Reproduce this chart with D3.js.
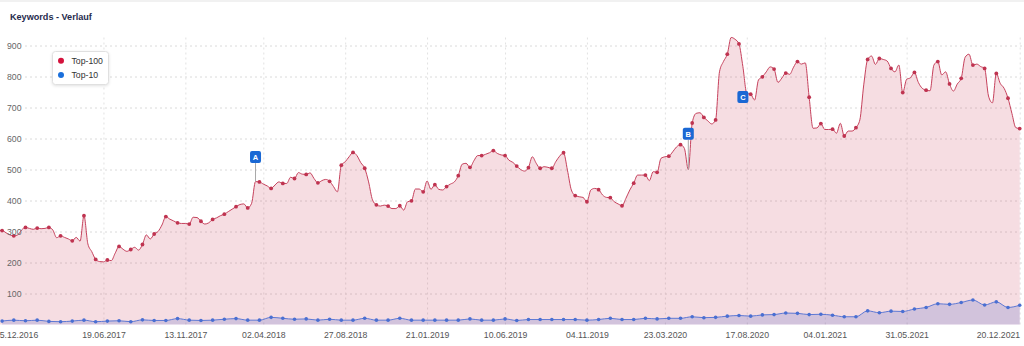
<!DOCTYPE html>
<html><head><meta charset="utf-8">
<script src="https://cdn.jsdelivr.net/npm/d3@7"></script>
<style>
html,body{margin:0;padding:0;background:#fff;}
svg{display:block;font-family:"Liberation Sans",Arial,sans-serif;}
</style>
</head><body>
<svg id="c" width="1024" height="346"></svg>
<script>
// ---------- data ----------
const title = "Keywords - Verlauf";
const seriesNames = ["Top-100", "Top-10"];
const startDate = "2016-12-05";   // first weekly value
const endDate = "2021-12-20";     // last weekly value
// Top-100, one value per week
const top100 = [300,303,303,296,289,286,289,305,313,310,307,311,309,310,313,305,280,286,281,276,
270,281,269,351,260,235,210,203,202,208,206,230,252,243,236,242,249,240,258,289,
276,292,300,321,348,340,334,328,326,326,324,346,345,333,324,328,339,344,351,356,
364,372,380,387,389,376,391,461,460,453,447,439,450,460,455,455,475,471,490,485,
484,489,471,457,464,468,462,445,428,514,525,541,555,545,522,504,460,402,386,382,
385,382,374,374,383,369,396,399,437,437,428,463,436,451,436,434,445,453,460,480,
517,520,507,528,545,545,549,554,561,552,547,545,530,523,511,500,495,506,541,520,
504,509,507,504,525,543,554,498,434,416,412,410,396,434,439,435,418,410,409,396,
389,383,407,434,456,482,482,482,464,493,491,536,541,543,557,573,580,568,500,650,
681,683,668,657,647,660,815,848,872,926,920,905,832,746,743,724,789,799,815,831,
824,781,795,811,807,830,848,840,844,733,633,634,648,629,629,630,617,649,608,624,
624,635,660,773,855,866,839,858,855,850,826,815,837,748,791,796,813,781,762,756,
754,837,848,805,815,776,753,776,794,862,872,837,840,832,826,737,715,810,778,762,
730,681,635,632];
// Top-10, one value every third week starting 19.12.2016
const top10Start = "2016-12-19";
const top10 = [11,14,12,14,10,9,11,14,9,11,12,9,15,13,13,19,14,13,14,17,19,14,
14,23,20,17,18,14,17,14,14,20,14,14,20,14,14,14,14,14,18,14,14,18,
13,16,16,16,16,16,14,16,20,16,16,20,18,20,20,25,22,23,27,29,27,31,
32,37,36,32,33,30,25,25,44,38,43,42,50,55,67,65,71,79,63,73,55,62];
const xTickLabels = ["05.12.2016","19.06.2017","13.11.2017","02.04.2018","27.08.2018","21.01.2019",
"10.06.2019","04.11.2019","23.03.2020","17.08.2020","04.01.2021","31.05.2021","20.12.2021"];
const yTickValues = [100,200,300,400,500,600,700,800,900];
const flagLabels = ["A","B","C"];
const flagDates = ["2018-03-19","2020-05-04","2020-08-10"];
const flagValues = [540, 615, 734];

// ---------- setup ----------
const svg = d3.select("#c");
const W = 1024, H = 346;
const plot = {left:-5.7, right:1019.7, top:37, bottom:324.5};
const gridLeft = 25, gridRight = 1022;
const red = "#c6425d", redDot = "#bf3350", blue = "#5d78d4", blueDot = "#4a6fd2";

const pISO = d3.utcParse("%Y-%m-%d");
const pDE = d3.utcParse("%d.%m.%Y");
const fDE = d3.utcFormat("%d.%m.%Y");
const t0 = pISO(startDate);
const d100 = top100.map((v,i)=>({date:d3.utcDay.offset(t0,7*i), v, i}));
const t10 = pISO(top10Start);
const d10 = top10.map((v,k)=>({date:d3.utcDay.offset(t10,21*k), v}));
const ticks = xTickLabels.map(pDE);

const x = d3.scaleUtc().domain([t0, pISO(endDate)]).range([plot.left, plot.right]);
const y = d3.scaleLinear().domain([0,900]).range([plot.bottom, 45.5]);

svg.append("rect").attr("width",W).attr("height",H).attr("fill","#fff");
svg.append("line").attr("x1",0).attr("x2",W).attr("y1",1).attr("y2",1)
  .attr("stroke","#ececec").attr("stroke-width",1.5);

// title
svg.append("text").attr("x",10).attr("y",20.3).text(title)
  .attr("font-size",9.1).attr("font-weight","bold").attr("fill","#1f2b4d");

// grid lines
const gy = svg.append("g").attr("transform",`translate(${gridLeft},0)`)
  .call(d3.axisRight(y).tickValues(yTickValues).tickSize(gridRight-gridLeft).tickFormat(""));
gy.select(".domain").remove();
gy.selectAll("line").attr("stroke","#dadada").attr("stroke-dasharray","2,3");

const gx = svg.append("g").attr("transform",`translate(0,${plot.bottom})`)
  .call(d3.axisBottom(x).tickValues(ticks).tickSize(-(plot.bottom-plot.top)).tickFormat(""));
gx.select(".domain").remove();
gx.selectAll("line").attr("stroke","#e2e2e2").attr("stroke-dasharray","2,3");

// areas
const area = d3.area().x(d=>x(d.date)).y0(y(0)).y1(d=>y(d.v)).curve(d3.curveMonotoneX);
const line = d3.line().x(d=>x(d.date)).y(d=>y(d.v)).curve(d3.curveMonotoneX);

svg.append("path").datum(d100).attr("d",area).attr("fill","rgb(196,45,75)").attr("fill-opacity",0.16);
svg.append("path").datum(d10).attr("d",area).attr("fill","rgb(70,95,200)").attr("fill-opacity",0.2);

svg.append("path").datum(d100).attr("d",line).attr("fill","none").attr("stroke",red).attr("stroke-width",1);
svg.append("path").datum(d10).attr("d",line).attr("fill","none").attr("stroke",blue).attr("stroke-width",1);

svg.append("g").selectAll("circle").data(d100.filter(d=>d.i%3===2)).join("circle")
  .attr("cx",d=>x(d.date)).attr("cy",d=>y(d.v)).attr("r",1.9).attr("fill",redDot);
svg.append("g").selectAll("circle").data(d10).join("circle")
  .attr("cx",d=>x(d.date)).attr("cy",d=>y(d.v)).attr("r",1.8).attr("fill",blueDot);

// y axis labels
const ay = svg.append("g").attr("transform","translate(21.5,0)")
  .call(d3.axisLeft(y).tickValues(yTickValues).tickSize(0).tickPadding(0));
ay.select(".domain").remove();
ay.selectAll("text").attr("font-size",8.7).attr("fill","#666").attr("font-family","Liberation Sans, Arial, sans-serif");

// x axis labels
const ax = svg.append("g").attr("transform",`translate(0,${plot.bottom})`)
  .call(d3.axisBottom(x).tickValues(ticks).tickSize(0).tickPadding(7).tickFormat(fDE));
ax.select(".domain").remove();
ax.selectAll("text").attr("font-size",8.7).attr("fill","#555").attr("font-family","Liberation Sans, Arial, sans-serif")
  .each(function(d){
    const w = this.getComputedTextLength();
    const cx = x(d);
    if (cx - w/2 < plot.left) { d3.select(this).attr("text-anchor","start").attr("x", plot.left - cx); }
    else if (cx + w/2 > plot.right) { d3.select(this).attr("text-anchor","end").attr("x", plot.right - cx); }
  });

// flags
flagLabels.forEach((lab,j)=>{
  const dt = pISO(flagDates[j]);
  const fx = x(dt), fy = y(flagValues[j]);
  const pt = d100.find(d=>+d.date===+dt);
  const py = y(pt.v);
  if (py > fy + 6) {
    svg.append("line").attr("x1",fx).attr("x2",fx).attr("y1",fy+6).attr("y2",py)
      .attr("stroke","#a8a8a8").attr("stroke-width",1);
  }
  svg.append("rect").attr("x",fx-5.5).attr("y",fy-6).attr("width",11).attr("height",12).attr("rx",2)
    .attr("fill","#1a68d4");
  svg.append("text").attr("x",fx).attr("y",fy+2.8).attr("text-anchor","middle")
    .attr("font-size",7.5).attr("font-weight","bold").attr("fill","#fff").text(lab);
});

// legend
const lg = svg.append("g");
lg.append("rect").attr("x",52.5).attr("y",51.5).attr("width",56).attr("height",33).attr("rx",3)
  .attr("fill","#fff").attr("stroke","#e0e0e0").style("filter","drop-shadow(0 1px 1.5px rgba(0,0,0,0.12))");
const legColors = ["#d4123c","#1a6fdb"];
seriesNames.forEach((n,j)=>{
  const cy = 60.8 + j*14.2;
  lg.append("circle").attr("cx",61).attr("cy",cy).attr("r",3).attr("fill",legColors[j]);
  lg.append("text").attr("x",71.5).attr("y",cy+3).attr("font-size",8.7).attr("fill","#333").text(n);
});
</script>
</body></html>
